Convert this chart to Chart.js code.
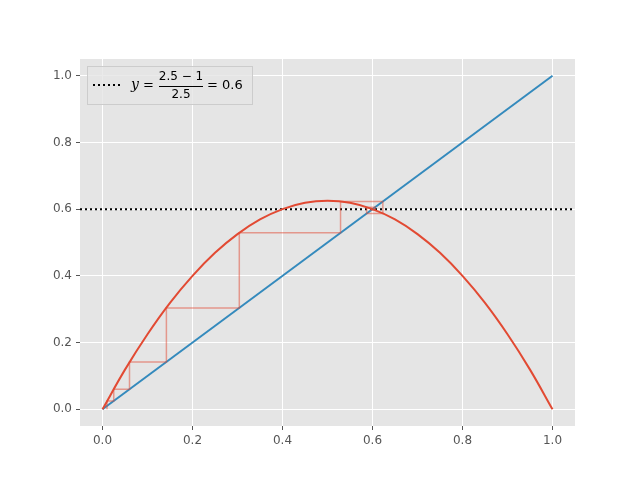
<!DOCTYPE html>
<html><head><meta charset="utf-8">
<script src="https://cdn.jsdelivr.net/npm/chart.js@4/dist/chart.umd.min.js"></script>
<style>body{margin:0;background:#fff}</style>
</head><body>
<canvas id="c" width="640" height="480"></canvas>
<script>
// logistic curve (r = 2.5)
var curveX = [0,0.05,0.1,0.15,0.2,0.25,0.3,0.35,0.4,0.45,0.5,0.55,0.6,0.65,0.7,0.75,0.8,0.85,0.9,0.95,1];
var curveY = [0,0.119,0.225,0.319,0.4,0.469,0.525,0.569,0.6,0.619,0.625,0.619,0.6,0.569,0.525,0.469,0.4,0.319,0.225,0.119,0];
var diagX = [0,1];
var diagY = [0,1];
// cobweb corners
var webX = [0.01,0.01,0.025,0.025,0.06,0.06,0.142,0.142,0.304,0.304,0.529,0.529,0.623,0.623,0.587,0.587,0.606,0.606,0.597,0.597];
var webY = [0,0.025,0.025,0.06,0.06,0.142,0.142,0.304,0.304,0.529,0.529,0.623,0.623,0.587,0.587,0.606,0.606,0.597,0.597,0.601];
var hLineX = [-0.05,1.05];
var hLineY = [0.6,0.6];
var tickVals = [0,0.2,0.4,0.6,0.8,1.0];

function pts(xs, ys) { return xs.map(function(x, i) { return {x: x, y: ys[i]}; }); }

var bgPlugin = {
    id: 'bg',
    beforeDraw: function(chart) {
        var a = chart.chartArea, ctx = chart.ctx;
        ctx.save();
        ctx.fillStyle = '#e5e5e5';
        ctx.fillRect(a.left, a.top, a.right - a.left, a.bottom - a.top);
        ctx.restore();
    }
};

var legendPlugin = {
    id: 'mathLegend',
    afterDraw: function(chart) {
        var a = chart.chartArea, ctx = chart.ctx;
        var x0 = a.left + 7, y0 = a.top + 7;
        ctx.save();
        ctx.fillStyle = 'rgba(229,229,229,0.8)';
        ctx.strokeStyle = '#cccccc';
        ctx.lineWidth = 1;
        ctx.fillRect(x0, y0, 165, 38);
        ctx.strokeRect(x0 + 0.5, y0 + 0.5, 165, 38);
        ctx.strokeStyle = '#000';
        ctx.lineWidth = 2;
        ctx.setLineDash([2, 3]);
        ctx.beginPath();
        ctx.moveTo(x0 + 6, y0 + 19);
        ctx.lineTo(x0 + 34, y0 + 19);
        ctx.stroke();
        ctx.setLineDash([]);
        ctx.fillStyle = '#000';
        ctx.font = 'italic 14px "DejaVu Serif"';
        ctx.textBaseline = 'middle';
        ctx.fillText('y', x0 + 44, y0 + 19);
        ctx.font = '13px "DejaVu Sans"';
        ctx.fillText('=', x0 + 56, y0 + 20);
        ctx.font = '12px "DejaVu Sans"';
        ctx.textAlign = 'center';
        ctx.fillText('2.5 \u2212 1', x0 + 94, y0 + 11);
        ctx.fillText('2.5', x0 + 94, y0 + 29);
        ctx.lineWidth = 1;
        ctx.beginPath();
        ctx.moveTo(x0 + 72, y0 + 20.5);
        ctx.lineTo(x0 + 116, y0 + 20.5);
        ctx.stroke();
        ctx.textAlign = 'left';
        ctx.font = '13px "DejaVu Sans"';
        ctx.fillText('= 0.6', x0 + 120, y0 + 20);
        ctx.restore();
    }
};

function axis(pos) {
    return {
        type: 'linear', position: pos, min: -0.05, max: 1.05,
        afterBuildTicks: function(s) { s.ticks = tickVals.map(function(v) { return {value: v}; }); },
        afterFit: function(s) { if (pos === 'left') s.width = 80; else s.height = 54; },
        grid: {color: '#ffffff', lineWidth: 1, drawTicks: true, tickColor: '#555', tickLength: 4},
        border: {display: false},
        ticks: {color: '#555', font: {family: 'DejaVu Sans', size: 12}, padding: 4,
                callback: function(v) { return v.toFixed(1); }}
    };
}

new Chart(document.getElementById('c'), {
    type: 'scatter',
    data: {datasets: [
        {data: pts(webX, webY), showLine: true, borderColor: 'rgba(226,74,51,0.5)', borderWidth: 1.5, pointRadius: 0},
        {data: pts(curveX, curveY), showLine: true, borderColor: '#E24A33', borderWidth: 2, pointRadius: 0, tension: 0.4},
        {data: pts(diagX, diagY), showLine: true, borderColor: '#348ABD', borderWidth: 2, pointRadius: 0},
        {data: pts(hLineX, hLineY), showLine: true, borderColor: '#000', borderWidth: 2, borderDash: [2, 3], pointRadius: 0}
    ]},
    options: {
        responsive: false, animation: false,
        layout: {padding: {top: 59, right: 65, left: 0, bottom: 0}},
        plugins: {legend: {display: false}, tooltip: {enabled: false}},
        scales: {x: axis('bottom'), y: axis('left')}
    },
    plugins: [bgPlugin, legendPlugin]
});
</script>
</body></html>
